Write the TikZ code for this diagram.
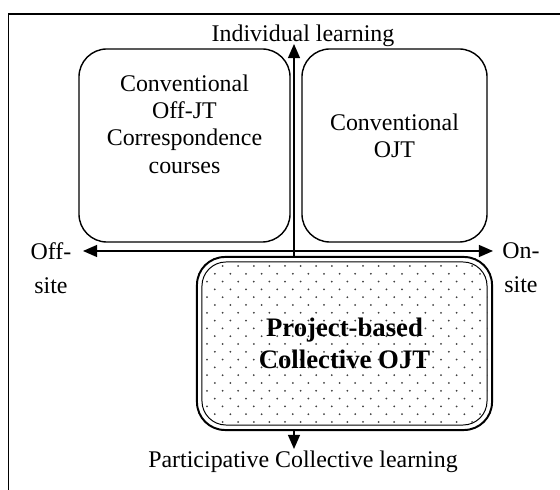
\documentclass[tikz,border=0pt]{standalone}
\usepackage{fontspec}
\setmainfont{Liberation Serif}
\usepackage{tikz}
\usetikzlibrary{arrows.meta}
\tikzset{axis/.style={-{Triangle[length=10pt, width=8.5pt]}, line width=1pt}}
\tikzset{quad/.style={draw, line width=1pt, rounded corners=0.7cm, inner sep=0pt}}
\tikzset{lbl/.style={align=center, inner sep=0pt, font=\fontsize{17}{19.5}\selectfont}}

\begin{document}
\begin{tikzpicture}[x=0.025cm, y=-0.025cm]
    \useasboundingbox (0,0) rectangle (560,490);
    \draw[line width=1.4pt] (560,14) -- (8.5,14) -- (8.5,490);
    \coordinate (O) at (294,251);
    \coordinate (up) at (294,44);
    \coordinate (down) at (294,449);
    \coordinate (left) at (83,251);
    \coordinate (right) at (493,251);
    \draw[axis] (O) to (up);
    \draw[axis] (O) to (down);
    \draw[axis] (O) to (left);
    \draw[axis] (O) to (right);
    \node[quad, minimum width=5.275cm, minimum height=4.825cm] (offjt) at (184.5,145.5) {};
    \node[quad, minimum width=4.625cm, minimum height=4.825cm] (ojt) at (394.5,145.5) {};
    \node[lbl] (offjtlbl) at (184.5,124) {Conventional\\Off-JT\\Correspondence\\courses};
    \node[lbl] (ojtlbl) at (394.5,136) {Conventional\\OJT};
    \node[quad, line width=1.4pt, fill=white, minimum width=7.375cm, minimum height=4.325cm] (pbojt) at (344.5,343.5) {};
    \node[quad, line width=0.7pt, rounded corners=0.6cm, minimum width=7.125cm, minimum height=4.075cm] (pbojtin) at (pbojt.center) {};
    % dotted fill, staggered rows
    \begin{scope}
      \clip[rounded corners=0.6cm] (pbojtin.south west) rectangle (pbojtin.north east);
      \foreach \j in {0,...,21}
        \foreach \i in {0,...,18}
          \fill[black!75] ({207+mod(\j,2)*7.8+\i*15.6}, {266+\j*7.8}) circle (1);
    \end{scope}
    \node[lbl, font=\fontsize{19}{23}\selectfont\bfseries] (pbojtlbl) at (pbojt.center) {Project-based\\Collective OJT};
    \node[lbl] (indiv) at (303,36) {Individual learning};
    \node[lbl] (partic) at (303,462) {Participative Collective learning};
    \node[lbl, font=\fontsize{17}{24}\selectfont] (offsite) at (51,268) {Off-\\site};
    \node[lbl, font=\fontsize{17}{24}\selectfont] (onsite) at (521,268) {On-\\site};
  \end{tikzpicture}
\end{document}
